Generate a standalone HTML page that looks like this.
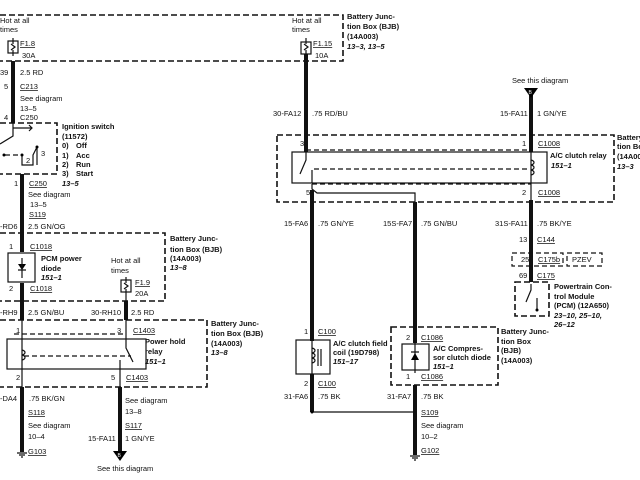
<!DOCTYPE html>
<html><head><style>
body{margin:0;background:#fff}
svg{display:block}
text{font-family:"Liberation Sans",sans-serif;font-size:7.5px;fill:#111}
.b{font-weight:bold}
.i{font-weight:bold;font-style:italic}
.u{text-decoration:underline}
.d{fill:none;stroke:#111;stroke-width:1.6;stroke-dasharray:6,3}
.w{stroke:#111;stroke-width:4;fill:none}
.t{stroke:#111;stroke-width:1.2;fill:none}
.dd{fill:none;stroke:#111;stroke-width:1.2;stroke-dasharray:5,3}
</style></head><body>
<svg width="640" height="480" viewBox="0 0 640 480" xmlns="http://www.w3.org/2000/svg">
<path class="d" d="M0 15H343V61H0"/>
<text x="0" y="23">Hot at all</text><text x="0" y="32">times</text>
<rect class="t" x="8" y="41" width="10" height="12"/><path class="t" d="M13 38V44M13 50V56M11 44l4 3-4 3"/>
<text x="20" y="46" class="u">F1.8</text><text x="22" y="58">30A</text>
<text x="292" y="23">Hot at all</text><text x="292" y="32">times</text>
<rect class="t" x="301" y="42" width="10" height="12"/><path class="t" d="M306 38V44M306 50V56M304 44l4 3-4 3"/>
<text x="313" y="46" class="u">F1.15</text><text x="315" y="58">10A</text>
<text x="347" y="19" class="b">Battery Junc-</text><text x="347" y="29" class="b">tion Box (BJB)</text><text x="347" y="39" class="b">(14A003)</text><text x="347" y="49" class="i">13–3, 13–5</text>
<path class="w" d="M13 61V123"/>
<text x="0" y="75">39</text><text x="20" y="75">2.5 RD</text>
<text x="4" y="89">5</text><text x="20" y="89" class="u">C213</text>
<text x="20" y="101">See diagram</text><text x="20" y="111">13–5</text>
<text x="4" y="120">4</text><text x="20" y="120">C250</text>
<path class="d" d="M0 123H57V174H0"/>
<path class="t" d="M13 123V136L0 144M13 128H32M29 125l3 3-3 3"/>
<path class="dd" d="M5 155H22"/>
<path class="t" d="M22 155V165H33V155L37 147V165"/>
<circle cx="4" cy="155" r="1.5"/><circle cx="22" cy="155" r="1.5"/><circle cx="37" cy="147" r="1.5"/>
<text x="26" y="163">2</text><text x="41" y="156">3</text>
<text x="62" y="129" class="b">Ignition switch</text><text x="62" y="139" class="b">(11572)</text>
<text x="62" y="148" class="b">0)</text><text x="76" y="148" class="b">Off</text>
<text x="62" y="158" class="b">1)</text><text x="76" y="158" class="b">Acc</text>
<text x="62" y="167" class="b">2)</text><text x="76" y="167" class="b">Run</text>
<text x="62" y="176" class="b">3)</text><text x="76" y="176" class="b">Start</text>
<text x="62" y="186" class="i">13–5</text>
<path class="w" d="M22 174V233"/>
<text x="14" y="186">1</text><text x="29" y="186" class="u">C250</text>
<text x="28" y="197">See diagram</text><text x="30" y="207">13–5</text><text x="29" y="217" class="u">S119</text>
<text x="0" y="229">-RD6</text><text x="28" y="229">2.5 GN/OG</text>
<path class="d" d="M0 233H165V301H0"/>
<text x="170" y="241" class="b">Battery Junc-</text><text x="170" y="252" class="b">tion Box (BJB)</text><text x="170" y="261" class="b">(14A003)</text><text x="170" y="270" class="i">13–8</text>
<path class="w" d="M22 233V252M22 283V320"/>
<rect class="t" x="8" y="253" width="27" height="29" stroke-width="1.6"/>
<path d="M18 264H26L22 270Z"/><path class="t" d="M18 270H26M22 258V278"/>
<text x="9" y="249">1</text><text x="30" y="249" class="u">C1018</text>
<text x="41" y="261" class="b">PCM power</text><text x="41" y="271" class="b">diode</text><text x="41" y="280" class="i">151–1</text>
<text x="9" y="291">2</text><text x="30" y="291" class="u">C1018</text>
<text x="111" y="263">Hot at all</text><text x="111" y="273">times</text>
<rect class="t" x="121" y="280" width="10" height="12"/><path class="t" d="M126 277V283M126 289V301M124 283l4 3-4 3"/>
<text x="135" y="285" class="u">F1.9</text><text x="135" y="296">20A</text>
<path class="w" d="M126 301V320"/>
<text x="0" y="315">-RH9</text><text x="28" y="315">2.5 GN/BU</text><text x="91" y="315">30-RH10</text><text x="131" y="315">2.5 RD</text>
<path class="d" d="M0 320H207V387H0"/>
<text x="211" y="326" class="b">Battery Junc-</text><text x="211" y="336" class="b">tion Box (BJB)</text><text x="211" y="346" class="b">(14A003)</text><text x="211" y="355" class="i">13–8</text>
<rect class="t" x="7" y="339" width="139" height="30" stroke-width="1.6"/>
<path class="dd" d="M14 334H126"/>
<path class="t" d="M22 320V387M126 320V348L133 362M120 360V387"/>
<path class="t" d="M22 350c4 1 4 4 0 5c4 1 4 4 0 5"/>
<path class="dd" d="M24 356H131"/>
<text x="16" y="333">1</text><text x="117" y="333">3</text><text x="133" y="333" class="u">C1403</text>
<text x="145" y="344" class="b">Power hold</text><text x="145" y="354" class="b">relay</text><text x="145" y="364" class="i">151–1</text>
<text x="16" y="380">2</text><text x="111" y="380">5</text><text x="126" y="380" class="u">C1403</text>
<path class="w" d="M22 387V452M120 387V452"/>
<path class="t" d="M17 453H27M19 455H25M21 457H23"/>
<text x="0" y="401">-DA4</text><text x="29" y="401">.75 BK/GN</text><text x="28" y="415" class="u">S118</text>
<text x="28" y="428">See diagram</text><text x="28" y="439">10–4</text><text x="28" y="454" class="u">G103</text>
<text x="125" y="403">See diagram</text><text x="125" y="414">13–8</text><text x="125" y="428" class="u">S117</text>
<text x="88" y="441">15-FA11</text><text x="125" y="441">1 GN/YE</text>
<path d="M113 451H127L120 461Z"/><text x="117.5" y="457" style="font-size:5px;fill:#fff">B</text>
<text x="97" y="471">See this diagram</text>
<path class="w" d="M306 54V152M531 94V152"/>
<text x="273" y="116">30-FA12</text><text x="312" y="116">.75 RD/BU</text>
<text x="512" y="83">See this diagram</text>
<path d="M524 88H538L531 98Z"/><text x="528.5" y="94" style="font-size:5px;fill:#fff">B</text>
<text x="500" y="116">15-FA11</text><text x="537" y="116">1 GN/YE</text>
<path class="d" d="M277 135H614V202H277Z"/>
<text x="617" y="140" class="b">Battery</text><text x="617" y="149" class="b">tion Bo</text><text x="617" y="159" class="b">(14A00</text><text x="617" y="169" class="i">13–3</text>
<rect class="t" x="292" y="152" width="255" height="31" stroke-width="1.6"/>
<path class="dd" d="M306 150H531M312 184H531"/>
<path class="t" d="M306 152V160L300 174M312 170V183M531 152V200"/>
<path class="t" d="M531 160c4 1 4 4 0 5c4 1 4 4 0 5c4 1 4 4 0 5"/>
<path class="dd" d="M314 169H529"/>
<text x="300" y="146">3</text><text x="522" y="146">1</text><text x="538" y="146" class="u">C1008</text>
<text x="550" y="158" class="b">A/C clutch relay</text><text x="551" y="168" class="i">151–1</text>
<text x="306" y="195">5</text><text x="522" y="195">2</text><text x="538" y="195" class="u">C1008</text>
<path class="t" d="M312 184V189L317 193H415V210"/>
<path class="w" d="M312 190V341M415 202V343M531 200V282"/>
<text x="284" y="226">15-FA6</text><text x="318" y="226">.75 GN/YE</text><text x="383" y="226">15S-FA7</text><text x="421" y="226">.75 GN/BU</text>
<text x="495" y="226">31S-FA11</text><text x="537" y="226">.75 BK/YE</text>
<text x="519" y="242">13</text><text x="537" y="242" class="u">C144</text>
<path class="dd" d="M512 253H563V266H512Z"/><path class="dd" d="M567 253H602V266H567Z"/>
<text x="521" y="262">25</text><text x="538" y="262" class="u">C175b</text><text x="572" y="262">PZEV</text>
<text x="519" y="278">69</text><text x="537" y="278" class="u">C175</text>
<path class="d" d="M515 282H549V316H515Z"/>
<path class="t" d="M531 284V290L526 302M537 298V310"/><circle cx="537" cy="310" r="1.5"/>
<text x="554" y="289" class="b">Powertrain Con-</text><text x="554" y="299" class="b">trol Module</text><text x="554" y="308" class="b">(PCM) (12A650)</text><text x="554" y="318" class="i">23–10, 25–10,</text><text x="554" y="327" class="i">26–12</text>
<rect class="t" x="296" y="340" width="34" height="34" stroke-width="1.6"/>
<path class="t" d="M312 340V374M312 348c4 1 4 4 0 5c4 1 4 4 0 5c4 1 4 4 0 5M318 349V366M321 349V366"/>
<text x="304" y="334">1</text><text x="318" y="334" class="u">C100</text>
<text x="333" y="346" class="b">A/C clutch field</text><text x="333" y="355" class="b">coil (19D798)</text><text x="333" y="364" class="i">151–17</text>
<text x="304" y="386">2</text><text x="318" y="386" class="u">C100</text>
<path class="w" d="M312 374V412M415 385V455"/>
<path class="t" d="M312 412H415"/><circle cx="312" cy="412" r="1.5"/>
<text x="284" y="399">31-FA6</text><text x="318" y="399">.75 BK</text>
<text x="387" y="399">31-FA7</text><text x="421" y="399">.75 BK</text>
<text x="421" y="415" class="u">S109</text><text x="421" y="428">See diagram</text><text x="421" y="439">10–2</text><text x="421" y="453" class="u">G102</text>
<path class="t" d="M410 456H420M412 458H418M414 460H416"/>
<path class="d" d="M391 327H498V385H391Z"/>
<rect class="t" x="402" y="344" width="27" height="26" stroke-width="1.6"/>
<path class="t" d="M415 341V373M411 352H419"/><path d="M411 360H419L415 353Z"/>
<text x="406" y="340">2</text><text x="421" y="340" class="u">C1086</text>
<text x="433" y="351" class="b">A/C Compres-</text><text x="433" y="360" class="b">sor clutch diode</text><text x="433" y="369" class="i">151–1</text>
<text x="406" y="379">1</text><text x="421" y="379" class="u">C1086</text>
<text x="501" y="334" class="b">Battery Junc-</text><text x="501" y="344" class="b">tion Box</text><text x="501" y="353" class="b">(BJB)</text><text x="501" y="363" class="b">(14A003)</text>
</svg>
</body></html>
